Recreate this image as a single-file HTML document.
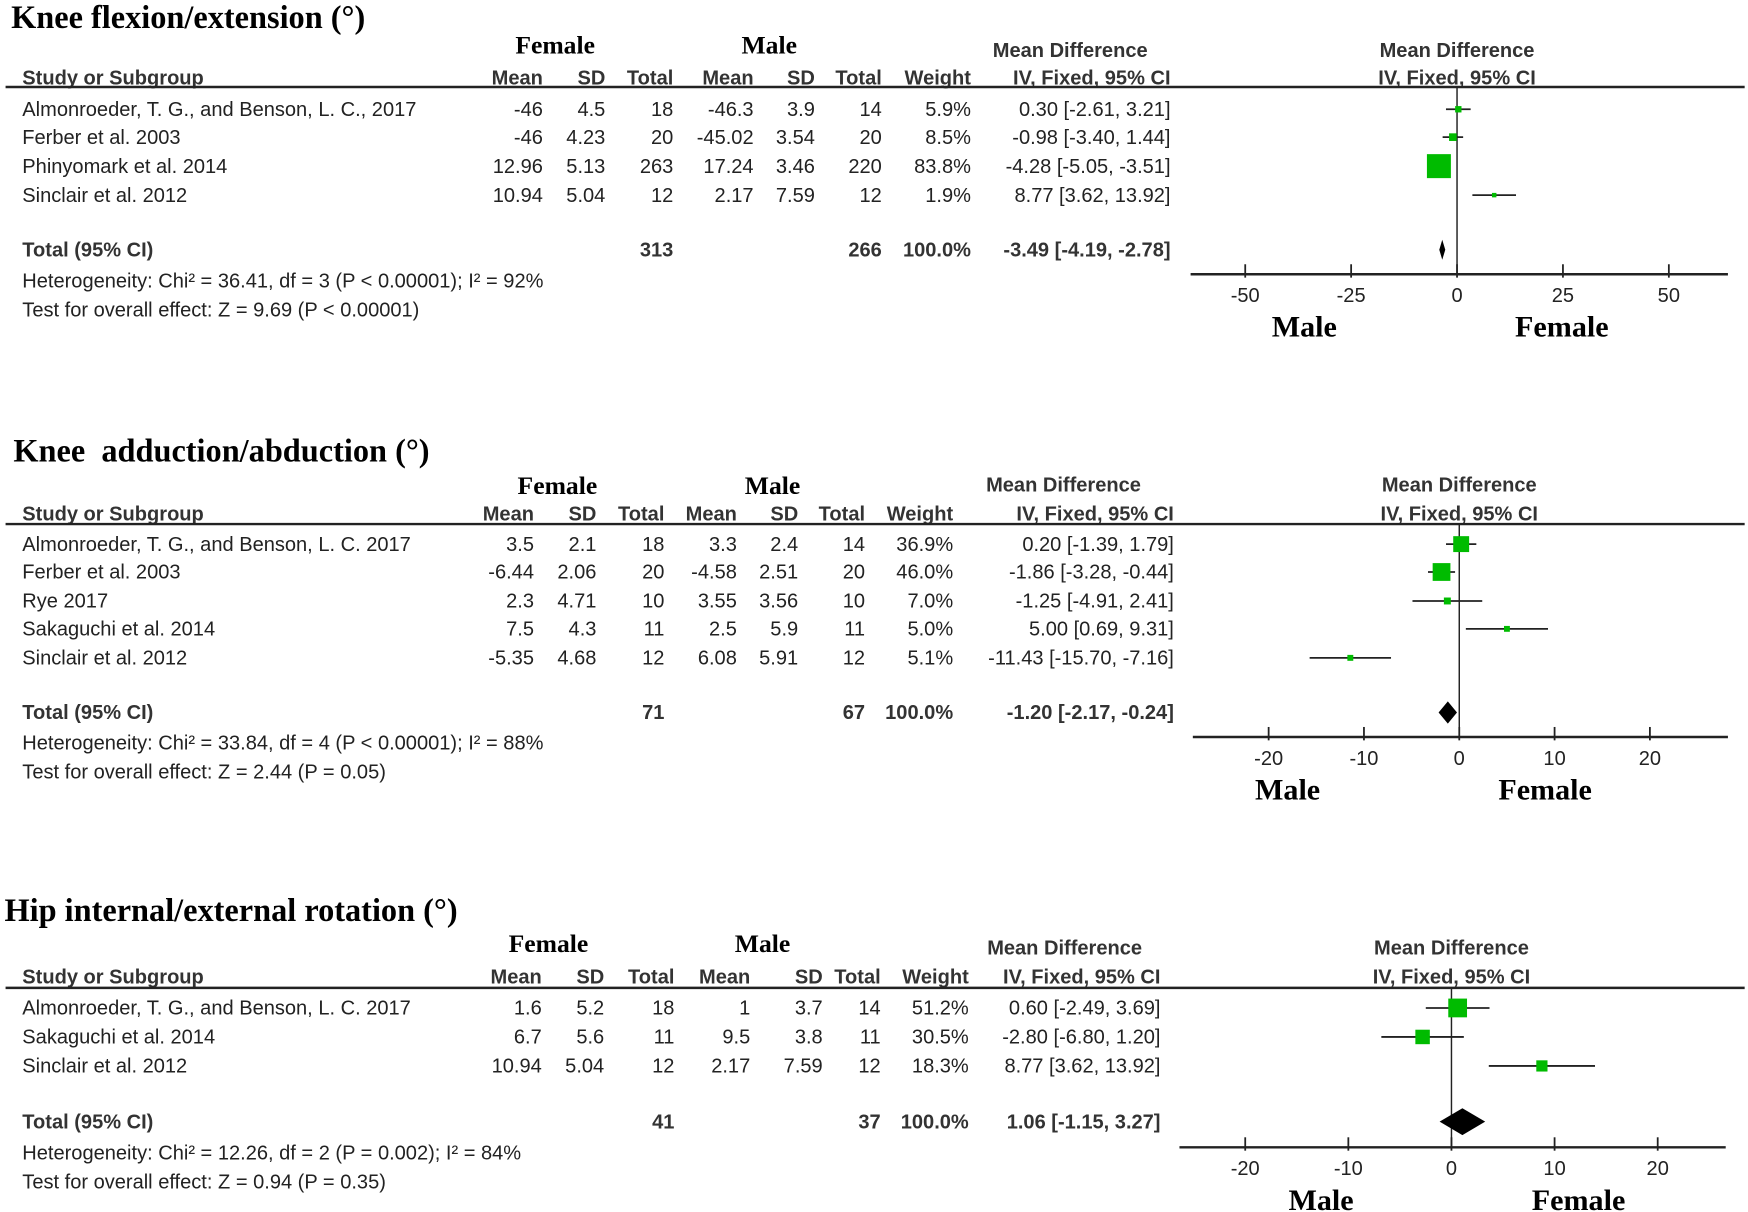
<!DOCTYPE html>
<html><head><meta charset="utf-8"><style>
html,body{margin:0;padding:0;background:#fff;width:1748px;height:1212px;overflow:hidden}
svg text{font-family:"Liberation Sans",Arial,sans-serif;fill:#222;white-space:pre}
.t{font-size:18px}
.b{font-weight:bold;font-size:18px;fill:#333}
.title{font-family:"Liberation Serif","Times New Roman",serif;font-weight:bold;font-size:29px;fill:#000}
.grp{font-family:"Liberation Serif","Times New Roman",serif;font-weight:bold;font-size:23px;fill:#000}
.sex{font-family:"Liberation Serif","Times New Roman",serif;font-weight:bold;font-size:27px;fill:#000}
</style></head><body>
<svg id="chart" xmlns="http://www.w3.org/2000/svg" xml:space="preserve" width="1748" height="1212" viewBox="0 0 1568 1087" preserveAspectRatio="none"></svg>
<script>
// ---------- Data: panel 1 ----------
const p1Title = "Knee flexion/extension (°)";
const p1Studies = ["Almonroeder, T. G., and Benson, L. C., 2017","Ferber et al. 2003","Phinyomark et al. 2014","Sinclair et al. 2012"];
const p1FMean = ["-46","-46","12.96","10.94"];
const p1FSD = ["4.5","4.23","5.13","5.04"];
const p1FN = ["18","20","263","12"];
const p1MMean = ["-46.3","-45.02","17.24","2.17"];
const p1MSD = ["3.9","3.54","3.46","7.59"];
const p1MN = ["14","20","220","12"];
const p1Weight = [5.9,8.5,83.8,1.9];
const p1MD = [0.30,-0.98,-4.28,8.77];
const p1Lo = [-2.61,-3.40,-5.05,3.62];
const p1Hi = [3.21,1.44,-3.51,13.92];
const p1Total = {f:"313",m:"266",md:-3.49,lo:-4.19,hi:-2.78};
const p1Het = "Heterogeneity: Chi² = 36.41, df = 3 (P < 0.00001); I² = 92%";
const p1Test = "Test for overall effect: Z = 9.69 (P < 0.00001)";
const p1Ticks = [-50,-25,0,25,50];

// ---------- Data: panel 2 ----------
const p2Title = "Knee  adduction/abduction (°)";
const p2Studies = ["Almonroeder, T. G., and Benson, L. C. 2017","Ferber et al. 2003","Rye 2017","Sakaguchi et al. 2014","Sinclair et al. 2012"];
const p2FMean = ["3.5","-6.44","2.3","7.5","-5.35"];
const p2FSD = ["2.1","2.06","4.71","4.3","4.68"];
const p2FN = ["18","20","10","11","12"];
const p2MMean = ["3.3","-4.58","3.55","2.5","6.08"];
const p2MSD = ["2.4","2.51","3.56","5.9","5.91"];
const p2MN = ["14","20","10","11","12"];
const p2Weight = [36.9,46.0,7.0,5.0,5.1];
const p2MD = [0.20,-1.86,-1.25,5.00,-11.43];
const p2Lo = [-1.39,-3.28,-4.91,0.69,-15.70];
const p2Hi = [1.79,-0.44,2.41,9.31,-7.16];
const p2Total = {f:"71",m:"67",md:-1.20,lo:-2.17,hi:-0.24};
const p2Het = "Heterogeneity: Chi² = 33.84, df = 4 (P < 0.00001); I² = 88%";
const p2Test = "Test for overall effect: Z = 2.44 (P = 0.05)";
const p2Ticks = [-20,-10,0,10,20];

// ---------- Data: panel 3 ----------
const p3Title = "Hip internal/external rotation (°)";
const p3Studies = ["Almonroeder, T. G., and Benson, L. C. 2017","Sakaguchi et al. 2014","Sinclair et al. 2012"];
const p3FMean = ["1.6","6.7","10.94"];
const p3FSD = ["5.2","5.6","5.04"];
const p3FN = ["18","11","12"];
const p3MMean = ["1","9.5","2.17"];
const p3MSD = ["3.7","3.8","7.59"];
const p3MN = ["14","11","12"];
const p3Weight = [51.2,30.5,18.3];
const p3MD = [0.60,-2.80,8.77];
const p3Lo = [-2.49,-6.80,3.62];
const p3Hi = [3.69,1.20,13.92];
const p3Total = {f:"41",m:"37",md:1.06,lo:-1.15,hi:3.27};
const p3Het = "Heterogeneity: Chi² = 12.26, df = 2 (P = 0.002); I² = 84%";
const p3Test = "Test for overall effect: Z = 0.94 (P = 0.35)";
const p3Ticks = [-20,-10,0,10,20];

const NS = "http://www.w3.org/2000/svg";
const svg = document.getElementById('chart');
function mk(tag, attrs, parent){const e=document.createElementNS(NS,tag);for(const k in attrs)e.setAttribute(k,attrs[k]);(parent||svg).appendChild(e);return e;}
function txt(s,x,y,cls,anchor,parent){const e=mk('text',{x:x,y:y,class:cls,'text-anchor':anchor||'start'},parent);e.textContent=s;return e;}
function fmt(v){return v.toFixed(2);}
function ci(md,lo,hi){return fmt(md)+" ["+fmt(lo)+", "+fmt(hi)+"]";}

function panel(id,d,L){
  const g=mk('g',{});
  
  
  let e;
  e=txt(d.title,L.titleX,L.titleY,'title','start',g);
  
  
  e=txt("Female",L.femX,L.grpY,'grp','middle',g);
  
  
  e=txt("Male",L.maleX,L.grpY,'grp','middle',g);
  
  
  e=txt("Mean Difference",L.mdX,L.mdY,'b','middle',g);
  
  
  e=txt("Mean Difference",L.zero,L.mdY,'b','middle',g);
  
  
  const hy=L.hdrY+6;
  e=txt("Study or Subgroup",20,hy,'b','start',g);
  
  
  const hdrs=["Mean","SD","Total","Mean","SD","Total","Weight","IV, Fixed, 95% CI"];
  hdrs.forEach((h,i)=>{const t=txt(h,L.cols[i],hy,'b','end',g);
    
    });
  e=txt("IV, Fixed, 95% CI",L.zero,hy,'b','middle',g);
  
  
  e=mk('line',{x1:5,x2:1565,y1:L.lineY,y2:L.lineY,stroke:'#222','stroke-width':2.2},g);
  
  
  const X=v=>L.zero+v*L.ppu;
  e=mk('line',{x1:X(0),x2:X(0),y1:L.lineY,y2:L.axisY,stroke:'#222','stroke-width':1.3},g);
  
  
  d.studies.forEach((s,i)=>{
    const y=L.rowY[i], by=y+6;
    const vals=[d.fMean[i],d.fSD[i],d.fN[i],d.mMean[i],d.mSD[i],d.mN[i],d.weight[i].toFixed(1)+"%",ci(d.md[i],d.lo[i],d.hi[i])];
    const r=mk('g',{},g);
    
    
    txt(s,20,by,'t','start',r);
    vals.forEach((v,j)=>txt(v,L.cols[j],by,'t','end',r));
    const cl=mk('line',{x1:X(d.lo[i]),x2:X(d.hi[i]),y1:y,y2:y,stroke:'#222','stroke-width':1.6},r);
    
    
    const sz=Math.max(4,2.35*Math.sqrt(d.weight[i]));
    const sq=mk('rect',{x:X(d.md[i])-sz/2,y:y-sz/2,width:sz,height:sz,fill:'#00bb00'},r);
    
    
  });
  const ty=L.totY+6;
  e=txt("Total (95% CI)",20,ty,'b','start',g);
  
  
  txt(d.total.f,L.cols[2],ty,'b','end',g);
  txt(d.total.m,L.cols[5],ty,'b','end',g);
  txt("100.0%",L.cols[6],ty,'b','end',g);
  txt(ci(d.total.md,d.total.lo,d.total.hi),L.cols[7],ty,'b','end',g);
  const dh=L.dh;
  e=mk('polygon',{points:[X(d.total.lo)+','+L.totY,X(d.total.md)+','+(L.totY-dh),X(d.total.hi)+','+L.totY,X(d.total.md)+','+(L.totY+dh)].join(' '),fill:'#000'},g);
  
  
  e=txt(d.het,20,L.hetY+6,'t','start',g);
  
  
  e=txt(d.test,20,L.hetY+32,'t','start',g);
  
  
  e=mk('line',{x1:L.axL,x2:L.axR,y1:L.axisY,y2:L.axisY,stroke:'#222','stroke-width':2.2},g);
  
  
  d.ticks.forEach(t=>{
    const tk=mk('line',{x1:X(t),x2:X(t),y1:L.axisY-9,y2:L.axisY+3,stroke:'#222','stroke-width':1.6},g);
    
    
    const tl=txt(String(t),X(t),L.axisY+25,'t','middle',g);
    
    
  });
  e=txt("Male",L.maleLbl,L.axisY+56,'sex','middle',g);
  
  
  e=txt("Female",L.femLbl,L.axisY+56,'sex','middle',g);
  
  
}

panel('panel-knee-flexion',{title:p1Title,studies:p1Studies,fMean:p1FMean,fSD:p1FSD,fN:p1FN,mMean:p1MMean,mSD:p1MSD,mN:p1MN,weight:p1Weight,md:p1MD,lo:p1Lo,hi:p1Hi,total:p1Total,het:p1Het,test:p1Test,ticks:p1Ticks},
 {titleX:10,titleY:25,femX:498,maleX:690,grpY:48,mdX:960,mdY:51,hdrY:70,lineY:78,cols:[487,543,604,676,731,791,871,1050],
  rowY:[98,123,149,175],totY:224,hetY:252,zero:1307,ppu:3.8,axisY:246,axL:1068,axR:1550,maleLbl:1170,femLbl:1401,dh:9});
panel('panel-knee-adduction',{title:p2Title,studies:p2Studies,fMean:p2FMean,fSD:p2FSD,fN:p2FN,mMean:p2MMean,mSD:p2MSD,mN:p2MN,weight:p2Weight,md:p2MD,lo:p2Lo,hi:p2Hi,total:p2Total,het:p2Het,test:p2Test,ticks:p2Ticks},
 {titleX:12,titleY:414,femX:500,maleX:693,grpY:443,mdX:954,mdY:441,hdrY:461,lineY:470,cols:[479,535,596,661,716,776,855,1053],
  rowY:[488,513,539,564,590],totY:639,hetY:666,zero:1309,ppu:8.55,axisY:661,axL:1070,axR:1550,maleLbl:1155,femLbl:1386,dh:10});
panel('panel-hip-rotation',{title:p3Title,studies:p3Studies,fMean:p3FMean,fSD:p3FSD,fN:p3FN,mMean:p3MMean,mSD:p3MSD,mN:p3MN,weight:p3Weight,md:p3MD,lo:p3Lo,hi:p3Hi,total:p3Total,het:p3Het,test:p3Test,ticks:p3Ticks},
 {titleX:4,titleY:826,femX:492,maleX:684,grpY:854,mdX:955,mdY:856,hdrY:876,lineY:886,cols:[486,542,605,673,738,790,869,1041],
  rowY:[904,930,956],totY:1006,hetY:1034,zero:1302,ppu:9.25,axisY:1029,axL:1058,axR:1548,maleLbl:1185,femLbl:1416,dh:12});
</script>
</body></html>
